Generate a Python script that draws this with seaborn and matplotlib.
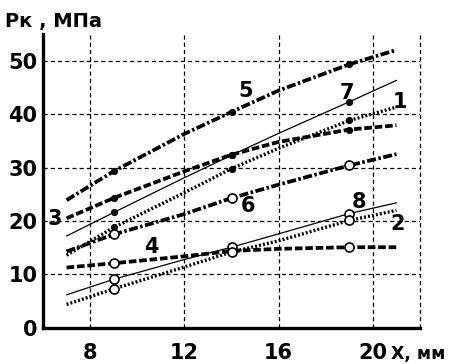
import pandas as pd
import matplotlib
matplotlib.use("Agg")
import matplotlib.pyplot as plt
import seaborn as sns

# x positions along the curves, mm
x_mm = [7, 9, 12, 14, 16, 19, 21]

# pressure values, MPa
curve_1 = [13.6, 18.8, 25.3, 29.8, 33.6, 38.8, 41.3]
curve_2 = [4.4, 7.3, 11.4, 14.2, 16.3, 20.1, 22.0]
curve_3 = [20.5, 24.3, 29.3, 32.4, 34.8, 37.1, 37.9]
curve_4 = [11.3, 12.1, 13.4, 14.4, 14.8, 15.1, 15.1]
curve_5 = [23.9, 29.3, 36.3, 40.4, 44.4, 49.3, 52.0]
curve_6 = [14.3, 17.5, 21.3, 24.3, 26.8, 30.4, 32.5]
curve_7 = [17.2, 21.6, 28.1, 32.3, 36.4, 42.3, 46.3]
curve_8 = [6.2, 9.1, 12.8, 15.1, 17.6, 21.4, 23.4]

x_ticks = [8, 12, 16, 20]
y_ticks = [0, 10, 20, 30, 40, 50]

# curve number -> label position
label_pos = {'1': (21.15, 42.2), '2': (21.05, 19.4), '3': (6.5, 20.3),
             '4': (10.6, 15.1), '5': (14.6, 44.4), '6': (14.7, 22.9),
             '7': (18.9, 44.0), '8': (19.4, 23.5)}

df = pd.DataFrame({'X': x_mm, '1': curve_1, '2': curve_2, '3': curve_3,
                   '4': curve_4, '5': curve_5, '6': curve_6,
                   '7': curve_7, '8': curve_8})

sns.set_style("white")
plt.rcParams['font.family'] = ['DejaVu Sans']
plt.rcParams['lines.scale_dashes'] = False
plt.rcParams['text.color'] = 'black'
plt.rcParams['xtick.color'] = 'black'
plt.rcParams['ytick.color'] = 'black'

dashdot = (0, (6.5, 1.8, 1.8, 1.8))
dashed = (0, (5.5, 2.0))
dotted = (0, (1.4, 1.5))

styles = {
    '5': dict(linestyle=dashdot, linewidth=2.7, filled=True),
    '3': dict(linestyle=dashed, linewidth=2.7, filled=True),
    '7': dict(linestyle='-', linewidth=0.9, filled=True),
    '1': dict(linestyle=dotted, linewidth=2.4, filled=True),
    '6': dict(linestyle=dashdot, linewidth=2.7, filled=False),
    '4': dict(linestyle=dashed, linewidth=2.7, filled=False),
    '8': dict(linestyle='-', linewidth=0.9, filled=False),
    '2': dict(linestyle=dotted, linewidth=2.4, filled=False),
}

fig = plt.figure(figsize=(4.5, 3.64), dpi=100)
ax = fig.add_axes([0.0956, 0.099, 0.8378, 0.808])

for key, st in styles.items():
    if st['filled']:
        mk = dict(marker='o', markersize=4.4, markerfacecolor='black',
                  markeredgecolor='black')
    else:
        mk = dict(marker='o', markersize=6.5, markerfacecolor='white',
                  markeredgecolor='black', markeredgewidth=1.2)
    sns.lineplot(data=df, x='X', y=key, ax=ax, color='black',
                 linestyle=st['linestyle'], linewidth=st['linewidth'],
                 markevery=[1, 3, 5], **mk)

for key, (lx, ly) in label_pos.items():
    ax.text(lx, ly, key, fontsize=15, fontweight='bold', ha='center',
            va='center', color='black')

ax.set_xlim(6, 22)
ax.set_ylim(0, 55)
ax.set_xticks(x_ticks)
ax.set_yticks(y_ticks)
ax.set_xlabel('')
ax.set_ylabel('')

grid_kw = dict(color='black', linewidth=0.9, linestyle=(0, (3.0, 2.2)))
ax.grid(True, **grid_kw)
ax.axvline(22, clip_on=False, **grid_kw)

for side in ['top', 'right']:
    ax.spines[side].set_visible(False)
for side in ['left', 'bottom']:
    ax.spines[side].set_linewidth(2.4)
    ax.spines[side].set_color('black')

ax.tick_params(axis='y', direction='out', length=3, width=1.2, pad=1,
               labelsize=15, colors='black')
ax.tick_params(axis='x', direction='in', length=0, pad=11, labelsize=15,
               colors='black')
for lab in ax.get_xticklabels() + ax.get_yticklabels():
    lab.set_fontweight('bold')

fig.text(0.012, 0.925, 'Pк , МПа', fontsize=14, fontweight='bold',
         ha='left', va='baseline', color='black')
fig.text(0.868, 0.013, 'X, мм', fontsize=12.5, fontweight='bold',
         ha='left', va='baseline', color='black')

fig.savefig('out.png', dpi=100)
